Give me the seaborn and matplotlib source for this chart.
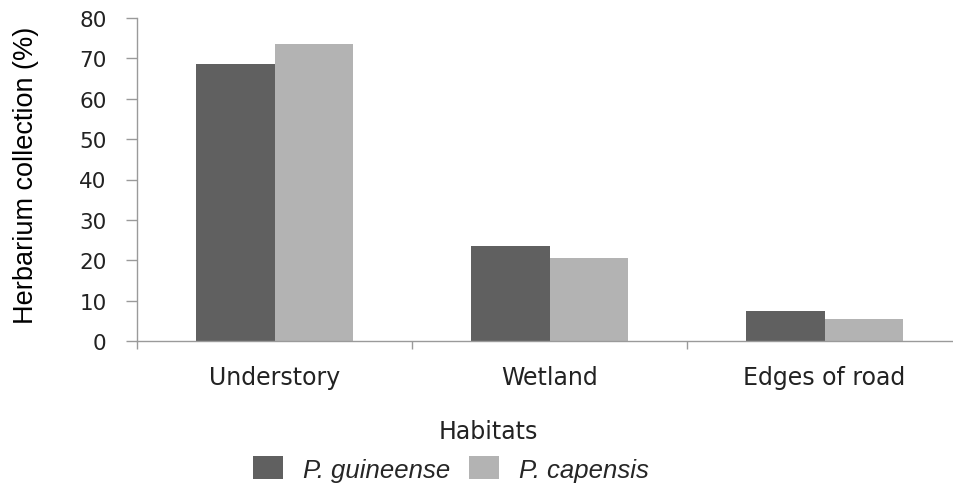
import matplotlib
matplotlib.use("Agg")
import matplotlib.pyplot as plt
import seaborn as sns
import pandas as pd
from matplotlib.ticker import FixedLocator

habitats = ["Understory", "Wetland", "Edges of road"]
species = ["P. guineense", "P. capensis"]
guineense = [68.6, 23.6, 7.5]
capensis = [73.5, 20.5, 5.4]
y_ticks = [0, 10, 20, 30, 40, 50, 60, 70, 80]
colors = ["#606060", "#b3b3b3"]

df = pd.DataFrame({
    "Habitat": habitats * 2,
    "Species": [species[0]] * 3 + [species[1]] * 3,
    "Value": guineense + capensis,
})

sns.set_theme(style="white")
plt.rcParams["font.family"] = ["DejaVu Sans"]

fig = plt.figure(figsize=(9.54, 4.89), dpi=100)
ax = fig.add_axes([137 / 954, 1 - 342 / 489, (954 - 137) / 954, 323 / 489])

sns.barplot(data=df, x="Habitat", y="Value", hue="Species", palette=colors,
            width=0.57, gap=0, linewidth=0, saturation=1, ax=ax, legend=False)

ax.set_ylim(0, 80)
ax.set_xlim(-0.5, 2.5 - 8 / 275)
ax.set_yticks(y_ticks)
ax.set_yticklabels([str(v) for v in y_ticks])

for s in ["top", "right"]:
    ax.spines[s].set_visible(False)
for s in ["left", "bottom"]:
    ax.spines[s].set_color("#9a9a9a")
    ax.spines[s].set_linewidth(1.0)

ax.tick_params(axis="y", which="major", length=8, width=1, color="#9a9a9a",
               direction="out", left=True, pad=14, labelsize=15.5, labelcolor="#222222")
ax.tick_params(axis="x", which="major", length=0, pad=17, labelsize=17, labelcolor="#222222")
ax.xaxis.set_minor_locator(FixedLocator([-0.5, 0.5, 1.5]))
ax.tick_params(axis="x", which="minor", length=6, width=1, color="#9a9a9a",
               direction="out", bottom=True)

ax.set_ylabel("Herbarium collection (%)", fontsize=19.5, family="Liberation Sans", color="black")
ax.yaxis.set_label_coords(-0.12, 0.517)
ax.set_xlabel("Habitats", fontsize=17, color="#222222")
ax.xaxis.set_label_coords(0.43, -0.241)

handles = [plt.Rectangle((0, 0), 1, 1, facecolor=c, edgecolor="none") for c in colors]
fig.legend(handles, species, loc="center left", bbox_to_anchor=(253 / 954, 1 - 470 / 489),
           ncol=2, frameon=False, borderpad=0, borderaxespad=0,
           handlelength=1.17, handleheight=1.01, handletextpad=0.78, columnspacing=0.74,
           prop={"family": "Liberation Sans", "style": "italic", "size": 18.5})

fig.savefig("out.png", dpi=100)
